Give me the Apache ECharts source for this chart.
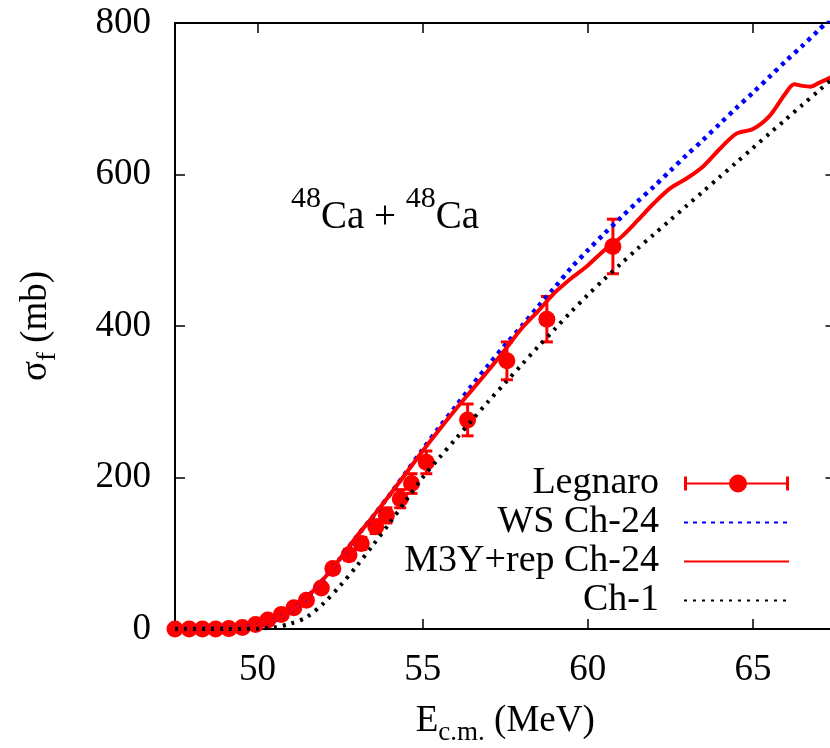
<!DOCTYPE html>
<html>
<head>
<meta charset="utf-8">
<script src="https://cdn.jsdelivr.net/npm/echarts@6/dist/echarts.min.js"></script>
<style>html,body{margin:0;padding:0;background:#fff}#c{width:830px;height:748px}</style>
</head>
<body>
<div id="c"></div>
<script>
// ---- data ----
var xTicks = [50, 55, 60, 65];
var yTicks = [0, 200, 400, 600, 800];

var legE     = [47.5, 47.93, 48.33, 48.73, 49.13, 49.54, 49.94, 50.31, 50.72, 51.1, 51.48, 51.93, 52.28, 52.77, 53.14, 53.58, 53.9, 54.32, 54.66, 55.11, 56.36, 57.55, 58.76, 60.76];
var legSigma = [0, 0, 0, 0, 0.5, 2, 6, 12, 19, 28, 38, 54, 80, 98, 113, 135, 150, 172, 192, 220, 276, 354, 409, 505];
var legErr   = [0, 0, 0, 0, 0.1, 0.3, 0.6, 1, 2, 2, 3, 4, 6, 7, 8, 9, 10, 12, 13, 15, 21, 25, 30, 36];

var wsE     = [47.5, 48, 48.5, 49, 49.5, 50, 50.5, 51, 51.5, 52, 52.5, 53, 53.5, 54, 54.5, 55, 55.5, 56, 56.5, 57, 57.5, 58, 58.5, 59, 59.5, 60, 60.5, 61, 61.5, 62, 62.5, 63, 63.5, 64, 64.5, 65, 65.5, 66, 66.5, 67, 67.5];
var wsSigma = [0, 0.1, 0.3, 0.8, 2, 5, 11, 23, 42, 66, 93, 122, 149, 177, 207, 237, 266, 294, 322, 349, 375, 400, 426, 451, 477, 500, 522, 543, 564, 584, 605, 626, 646, 667, 688, 708, 729, 750, 770, 791, 812];

var m3yE     = [47.5, 48, 48.5, 49, 49.5, 50, 50.5, 51, 51.5, 52, 52.5, 53, 53.5, 54, 54.5, 55, 55.5, 56, 56.5, 57, 57.5, 58, 58.5, 59, 59.5, 60, 60.5, 61, 61.5, 62, 62.5, 63, 63.5, 64, 64.5, 65, 65.5, 66, 66.25, 66.5, 66.75, 67, 67.5];
var m3ySigma = [0, 0.1, 0.3, 0.8, 2, 5, 11, 23, 42, 66, 93, 122, 149, 177, 206, 235, 263, 290, 316, 342, 369, 397, 420, 444, 463, 480, 500, 517, 539, 562, 582, 595, 611, 634, 654, 660, 677, 708, 719, 717, 716, 721, 731];

var ch1E     = [47.5, 48, 48.5, 49, 49.5, 50, 50.5, 51, 51.5, 52, 52.5, 53, 53.5, 54, 54.5, 55, 55.5, 56, 56.5, 57, 57.5, 58, 58.5, 59, 59.5, 60, 60.5, 61, 61.5, 62, 62.5, 63, 63.5, 64, 64.5, 65, 65.5, 66, 66.5, 67, 67.5];
var ch1Sigma = [0, 0, 0, 0, 0.1, 0.5, 2, 7, 16, 34, 57, 83, 111, 140, 170, 200, 226, 251, 276, 301, 325, 349, 373, 396, 419, 441, 462, 482, 502, 521, 540, 559, 578, 597, 616, 635, 654, 673, 692, 711, 730];

function pairs(xs, ys) { return xs.map(function (x, i) { return [x, ys[i]]; }); }

var FONT = 'Liberation Serif';
var chart = echarts.init(document.getElementById('c'), null, {renderer: 'canvas'});

var legIcon = 'path://M0 9 H105 V11 H0 Z M0 3 H3 V17 H0 Z M102 3 H105 V17 H102 Z M45 10 A9 9 0 1 1 63 10 A9 9 0 1 1 45 10 Z';

var axisCommon = {
  type: 'value',
  axisLine: {show: true, onZero: false, lineStyle: {color: '#000', width: 2}},
  axisTick: {show: true, inside: true, length: 10, lineStyle: {color: '#000', width: 1.5}},
  splitLine: {show: false}
};

var hiddenSymbol = {opacity: 0, color: 'transparent', borderWidth: 0};

chart.setOption({
  animation: false,
  backgroundColor: '#fff',
  grid: {left: 175, top: 23, right: -5.5, bottom: 119, containLabel: false, outerBoundsMode: 'none'},
  xAxis: [
    Object.assign({}, axisCommon, {
      position: 'bottom', min: 47.5, max: 67.5,
      axisTick: Object.assign({}, axisCommon.axisTick, {customValues: xTicks}),
      axisLabel: {customValues: xTicks, margin: 23, color: '#000', fontFamily: FONT, fontSize: 37},
      name: '{e|E}{s|c.m.}{e| (MeV)}',
      nameLocation: 'middle', nameGap: 74,
      nameTextStyle: {
        color: '#000', fontFamily: FONT, fontSize: 37,
        rich: {
          e: {fontFamily: FONT, fontSize: 37, color: '#000', verticalAlign: 'top'},
          s: {fontFamily: FONT, fontSize: 27, color: '#000', verticalAlign: 'top', padding: [16, 0, 0, 0]}
        }
      }
    }),
    Object.assign({}, axisCommon, {
      position: 'top', min: 47.5, max: 67.5,
      axisTick: Object.assign({}, axisCommon.axisTick, {customValues: xTicks}),
      axisLabel: {show: false}
    })
  ],
  yAxis: [
    Object.assign({}, axisCommon, {
      position: 'left', min: 0, max: 800, interval: 200,
      axisLabel: {margin: 24, color: '#000', fontFamily: FONT, fontSize: 37},
      name: '{e|σ}{s|f}{e| (mb)}',
      nameLocation: 'middle', nameGap: 114, nameRotate: 90,
      nameTextStyle: {
        color: '#000', fontFamily: FONT, fontSize: 37,
        rich: {
          e: {fontFamily: FONT, fontSize: 37, color: '#000', verticalAlign: 'top'},
          s: {fontFamily: FONT, fontSize: 27, color: '#000', verticalAlign: 'top', padding: [16, 0, 0, 0]}
        }
      }
    }),
    Object.assign({}, axisCommon, {
      position: 'right', min: 0, max: 800, interval: 200,
      axisLabel: {show: false}
    })
  ],
  legend: {
    orient: 'vertical', align: 'right', right: 40, top: 464, padding: 0,
    itemWidth: 105, itemHeight: 20, itemGap: 0,
    textStyle: {color: '#000', fontFamily: FONT, fontSize: 38, lineHeight: 39, padding: [0, 20, 0, 0]},
    data: [
      {name: 'Legnaro', icon: legIcon, itemStyle: {color: '#ff0000'}},
      {name: 'WS Ch-24', itemStyle: hiddenSymbol},
      {name: 'M3Y+rep Ch-24', itemStyle: hiddenSymbol},
      {name: 'Ch-1', itemStyle: hiddenSymbol}
    ]
  },
  graphic: [{
    type: 'text', left: 291, top: 184,
    style: {
      text: '{s|48}{m|Ca + }{s|48}{m|Ca}',
      rich: {
        s: {fontFamily: FONT, fontSize: 30, fill: '#000', verticalAlign: 'top'},
        m: {fontFamily: FONT, fontSize: 39, fill: '#000', verticalAlign: 'top', padding: [14, 0, 0, 0]}
      }
    }
  }],
  series: [
    {
      name: 'Legnaro', type: 'scatter', data: pairs(legE, legSigma),
      symbol: 'circle', symbolSize: 17, clip: false,
      itemStyle: {color: '#ff0000', opacity: 1}, z: 2
    },
    {
      name: 'LegnaroErr', type: 'custom', clip: false, z: 2,
      data: legE.map(function (x, i) { return [x, legSigma[i], legErr[i]]; }),
      renderItem: function (params, api) {
        var x = api.value(0), y = api.value(1), e = api.value(2);
        if (e < 1) return null;
        var lo = api.coord([x, y - e]), hi = api.coord([x, y + e]);
        var w = 6, st = {stroke: '#ff0000', lineWidth: 3};
        return {type: 'group', children: [
          {type: 'line', shape: {x1: lo[0], y1: lo[1], x2: hi[0], y2: hi[1]}, style: st},
          {type: 'line', shape: {x1: lo[0] - w, y1: lo[1], x2: lo[0] + w, y2: lo[1]}, style: st},
          {type: 'line', shape: {x1: hi[0] - w, y1: hi[1], x2: hi[0] + w, y2: hi[1]}, style: st}
        ]};
      }
    },
    {
      name: 'WS Ch-24', type: 'line', data: pairs(wsE, wsSigma), symbol: 'none', smooth: 0.3,
      lineStyle: {color: '#0000ff', width: 4.5, type: [4, 5]}, itemStyle: {color: '#0000ff'}, z: 3
    },
    {
      name: 'M3Y+rep Ch-24', type: 'line', data: pairs(m3yE, m3ySigma), symbol: 'none', smooth: 0.3,
      lineStyle: {color: '#ff0000', width: 4}, itemStyle: {color: '#ff0000'}, z: 3
    },
    {
      name: 'Ch-1', type: 'line', data: pairs(ch1E, ch1Sigma), symbol: 'none', smooth: 0.3,
      lineStyle: {color: '#000000', width: 4, type: [3, 6]}, itemStyle: {color: '#000'}, z: 3
    }
  ]
});
</script>
</body>
</html>
